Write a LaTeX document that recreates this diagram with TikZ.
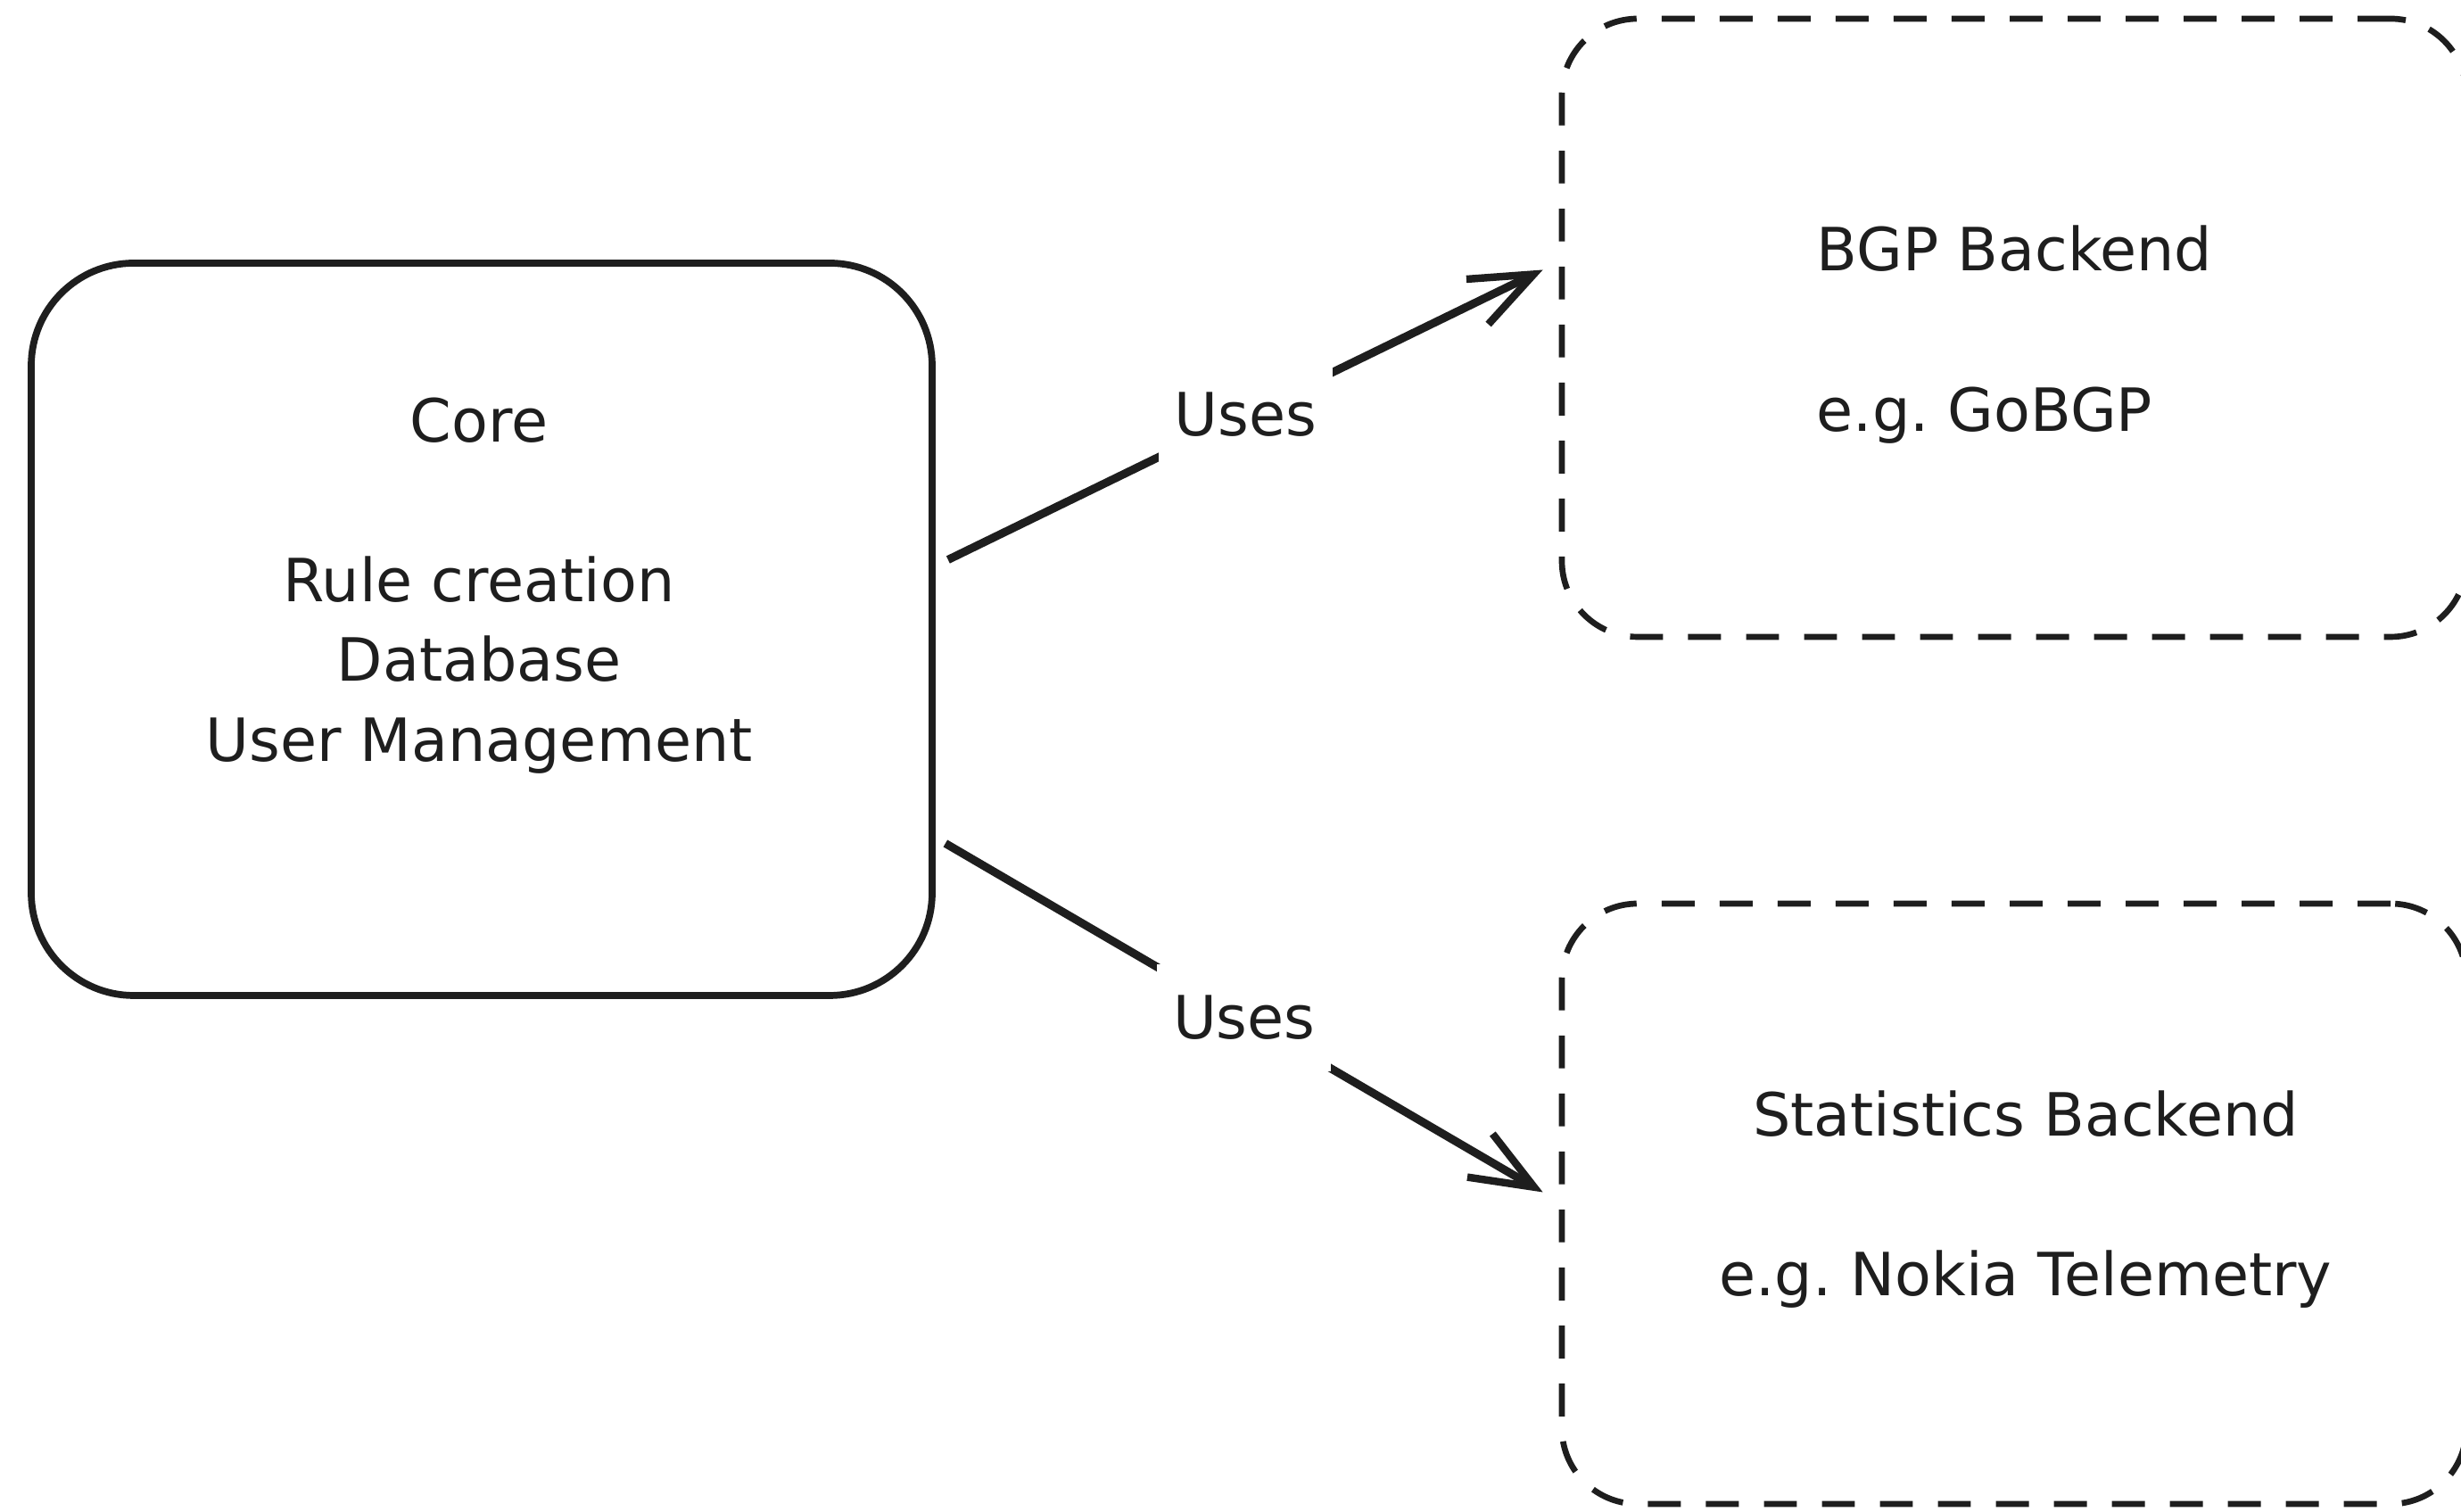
\documentclass[tikz,border=0pt]{standalone}
\usepackage{fontspec}
\setmainfont{DejaVu Sans}
\usepackage{tikz}
\usetikzlibrary{arrows.meta}
\definecolor{ink}{HTML}{1E1E1E}
\frenchspacing

\begin{document}
\begin{tikzpicture}[
        corebox/.style={draw=ink, line width=2.2pt, rounded corners=1.15cm, minimum width=10.1cm, minimum height=8.21cm},
        backbox/.style={draw=ink, line width=1.9pt, dash pattern=on 10.5pt off 8pt, rounded corners=0.85cm, minimum width=10.14cm},
        boxtext/.style={text=ink, font=\fontsize{19}{25.5}\selectfont, inner sep=0pt},
        uses/.style={draw=ink, line width=2.6pt, -{Straight Barb[length=20pt, width=16pt, line width=2.4pt]}},
        useslabel/.style={fill=white, text=ink, font=\fontsize{19}{24}\selectfont, inner xsep=5pt, inner ysep=10pt}
    ]
        \fill[white] (0, 0) rectangle (27.59, 16.95);
        \useasboundingbox (0, 0) rectangle (27.59, 16.95);
        % boxes
        \node[corebox] (core) at (5.40, 9.895) {};
        \node[backbox, minimum height=6.93cm] (bgp) at (22.58, 13.275) {};
        \node[backbox, minimum height=6.73cm] (stats) at (22.58, 3.455) {};
        % texts
        \node[boxtext, align=center] (coretext) at (5.37, 10.385) {Core\\ \\Rule creation\\Database\\User Management};
        \node[boxtext, align=left, anchor=west] (bgptext) at (20.36, 13.20) {BGP Backend\\ \\e.g. GoBGP};
        \node[boxtext, align=center] (statstext) at (22.71, 3.505) {Statistics Backend\\ \\e.g. Nokia Telemetry};
        % connectors
        \draw[uses] ([shift={(0.14,0.78)}]core.east) -- node[useslabel] (uses1) {Uses} ([shift={(-0.18,0.65)}]bgp.west);
        \draw[uses] ([shift={(0.11,-2.40)}]core.east) -- node[useslabel] (uses2) {Uses} ([shift={(-0.18,0.13)}]stats.west);
    \end{tikzpicture}
\end{document}
